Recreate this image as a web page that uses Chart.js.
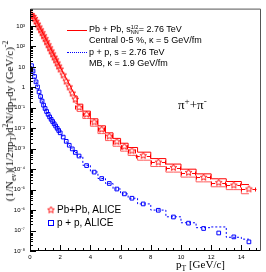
<!DOCTYPE html>
<html><head><meta charset="utf-8">
<script src="https://cdn.jsdelivr.net/npm/chart.js@4.4.0/dist/chart.umd.min.js"></script>
<style>
html,body{margin:0;padding:0;background:#fff;}
#wrap{position:relative;width:266px;height:272px;overflow:hidden;background:#fff;}
#c{position:absolute;left:0;top:0;}
.t{position:absolute;white-space:nowrap;color:#000;}
.leg{font-family:"Liberation Sans",Arial,sans-serif;font-size:9px;line-height:9px;}
.leg2{font-family:"Liberation Sans",Arial,sans-serif;font-size:10px;line-height:10px;}
.serif{font-family:"Liberation Serif","Times New Roman",serif;}
.stk{display:inline-block;vertical-align:-2px;font-size:5.5px;line-height:5px;text-align:left;}
sub,sup{font-size:70%;line-height:0;}
.ls{position:absolute;width:20px;height:0;}
</style></head>
<body><div id="wrap">
<canvas id="c" width="266" height="272"></canvas>
<div class="ls" style="left:67px;top:30px;border-top:1px solid #ff0000;"></div>
<div class="t leg" style="left:89px;top:25px;">Pb + Pb, s<span class="stk">1/2<br>NN</span>= 2.76 TeV</div>
<div class="t leg" style="left:89px;top:36px;">Central 0-5 %, κ = 5 GeV/fm</div>
<div class="ls" style="left:67px;top:52px;border-top:1px dotted #0000ff;"></div>
<div class="t leg" style="left:89px;top:47.5px;">p + p, s = 2.76 TeV</div>
<div class="t leg" style="left:89px;top:58.5px;">MB, κ = 1.9 GeV/fm</div>
<div class="t serif" style="left:178px;top:98px;font-size:13px;line-height:13px;">π<sup>+</sup>+π<sup>-</sup></div>
<div class="t leg2" style="left:57px;top:205px;">Pb+Pb, ALICE</div>
<div class="t leg2" style="left:57px;top:218px;">p + p, ALICE</div>
<div class="t serif" style="left:176px;top:258px;font-size:11px;line-height:12px;">p<sub>T</sub> [GeV/c]</div>
<div class="t serif" style="left:9px;top:121px;font-size:11px;line-height:12px;transform:translate(-50%,-50%) rotate(-90deg);">(1/N<sub>ev</sub>)(1/2πp<sub>T</sub>)d<sup>2</sup>N/dp<sub>T</sub>dy (GeV/c)<sup>-2</sup></div>
</div>
<script>
// ---- data ----
const pT = [0.1,0.2,0.3,0.4,0.5,0.6,0.7,0.8,0.9,1.0,1.1,1.2,1.3,1.4,1.5,1.6,1.7,1.8,1.9,2.0,
            2.2,2.4,2.6,2.8,3.0,3.25,3.75,4.25,4.75,5.25,5.75,6.25,6.75,7.5,8.5,9.5,10.5,11.5,12.5,13.5,14.5];
const pTErr = [0,0,0,0,0,0,0,0,0,0,0,0,0,0,0,0,0,0,0,0,
               0,0,0,0,0,0.25,0.25,0.25,0.25,0.25,0.25,0.25,0.25,0.5,0.5,0.5,0.5,0.5,0.5,0.5,0.5];
// Pb+Pb ALICE (stars)
const pbpbData = [3.5e3,2.95e3,2.3e3,1.7e3,1.23e3,890,645,468,331,240,170,120,85,60,43,30,22,15.5,11,7.8,
                  4.0,2.0,1.05,0.52,0.26,0.105,0.048,0.020,8.9e-3,4.1e-3,2.2e-3,1.26e-3,7.9e-4,4.6e-4,2.2e-4,1.2e-4,6.8e-5,4.0e-5,2.2e-5,1.66e-5,1.07e-5];
// Pb+Pb model band (upper / lower)
const pbpbModelHigh = [4.0e3,3.3e3,2.6e3,1.9e3,1.38e3,1000,724,525,380,275,195,141,100,72,51,37,27,19.5,13.8,10,
                  5.2,2.75,1.45,0.74,0.38,0.151,0.069,0.029,0.0132,0.0060,0.0032,0.00186,0.00115,6.8e-4,3.3e-4,1.78e-4,1.0e-4,5.9e-5,3.4e-5,2.5e-5,1.78e-5];
const pbpbModelLow = [3.3e3,2.7e3,2.04e3,1.48e3,1.07e3,760,537,380,269,190,132,93,65,45,32,22,15.5,10.7,7.6,5.2,
                  2.6,1.32,0.66,0.33,0.166,0.066,0.030,0.0126,0.0055,0.0025,0.00132,7.6e-4,4.7e-4,2.75e-4,1.35e-4,7.2e-5,4.1e-5,2.4e-5,1.38e-5,1.0e-5,6.3e-6];
// p+p ALICE (squares)
const ppData = [11.5,6.3,3.4,1.86,1.05,0.60,0.355,0.214,0.135,0.093,0.066,0.048,0.036,0.0275,0.0214,0.0166,0.0129,0.0100,0.0078,0.0060,
                0.0037,0.0023,0.00148,9.8e-4,6.6e-4,4.4e-4,1.5e-4,7.2e-5,3.5e-5,2.0e-5,1.07e-5,6.2e-6,3.8e-6,2.0e-6,9.8e-7,4.6e-7,2.3e-7,1.26e-7,7.6e-8,4.9e-8,2.8e-8];
// p+p model (dotted)
const ppModel = [11.2,6.2,3.4,1.86,1.05,0.60,0.36,0.215,0.136,0.093,0.066,0.048,0.036,0.0275,0.0214,0.0166,0.0129,0.0100,0.0078,0.0060,
                0.0037,0.0023,0.00148,9.8e-4,6.6e-4,4.2e-4,1.55e-4,7.3e-5,3.5e-5,2.0e-5,1.08e-5,6.2e-6,3.8e-6,2.0e-6,1.0e-6,4.7e-7,2.4e-7,1.38e-7,1.5e-7,4.7e-8,3.8e-8];
const yTickPowers = [-8,-7,-6,-5,-4,-3,-2,-1,0,1,2,3];
const xTickValues = [0,2,4,6,8,10,12,14];
const X_MIN = 0, X_MAX = 15.3, Y_MIN = 1e-8, Y_MAX = 7100;
const SMOOTH_END = 3.0;

// ---- build datasets ----
const pts = (arr, f) => pT.map((x,i)=>({x, y:arr[i]})).filter(p=>f(p.x));
const low = x => x <= SMOOTH_END, high = x => x >= SMOOTH_END;

function makeStar(color, r){
  const s = Math.ceil(r*2+2);
  const c = document.createElement('canvas'); c.width = s; c.height = s;
  const g = c.getContext('2d'); g.strokeStyle = color; g.lineWidth = 0.9;
  g.beginPath();
  for(let i=0;i<10;i++){
    const ang = -Math.PI/2 + i*Math.PI/5, rr = (i%2) ? r*0.45 : r;
    const px = s/2 + rr*Math.cos(ang), py = s/2 + rr*Math.sin(ang);
    if(i) g.lineTo(px,py); else g.moveTo(px,py);
  }
  g.closePath(); g.stroke();
  return c;
}
const star = makeStar('#ff0000', 3.5);

const RED = '#ff0000', RED2 = '#ff5c5c', BLUE = '#0000ff';
const lineDs = (data, color, stepped, dash) => ({
  data, borderColor: color, borderWidth: 1, pointRadius: 0, tension: 0,
  stepped: stepped ? 'middle' : false, borderDash: dash || [], fill: false, showLine: true
});

const datasets = [
  lineDs(pts(pbpbModelHigh, low), RED, false),
  lineDs(pts(pbpbModelHigh, high), RED, true),
  lineDs(pts(pbpbModelLow, low), RED2, false),
  lineDs(pts(pbpbModelLow, high), RED2, true),
  lineDs(pts(ppModel, low), BLUE, false, [2,2]),
  lineDs(pts(ppModel, high), BLUE, true, [2,2]),
  { data: pts(pbpbData, ()=>true), showLine:false, pointStyle: star, pointRadius: 4,
    borderColor: RED, backgroundColor: 'rgba(0,0,0,0)' },
  { data: pts(ppData, ()=>true), showLine:false, pointStyle: 'rect', pointRadius: 2.6,
    borderColor: BLUE, borderWidth: 1, backgroundColor: 'rgba(0,0,0,0)' }
];

const supMap = {'-':'\u207B','0':'\u2070','1':'\u00B9','2':'\u00B2','3':'\u00B3','4':'\u2074','5':'\u2075','6':'\u2076','7':'\u2077','8':'\u2078','9':'\u2079'};
function powLabel(e){
  if(e===0) return '1';
  if(e===1) return '10';
  return '10' + String(e).split('').map(ch=>supMap[ch]).join('');
}

const decor = {
  id: 'decor',
  afterDatasetsDraw(chart){
    const {ctx, scales:{x, y}} = chart;
    ctx.save();
    ctx.strokeStyle = RED; ctx.lineWidth = 1;
    pT.forEach((v,i)=>{
      const e = pTErr[i]; if(!e) return;
      const yy = Math.round(y.getPixelForValue(pbpbData[i])) + 0.5;
      const x1 = x.getPixelForValue(v - e), x2 = x.getPixelForValue(v + e);
      const xc = x.getPixelForValue(v);
      ctx.beginPath();
      ctx.moveTo(x1, yy); ctx.lineTo(xc - 3.5, yy);
      ctx.moveTo(xc + 3.5, yy); ctx.lineTo(x2, yy);
      ctx.moveTo(Math.round(x1)+0.5, yy-2); ctx.lineTo(Math.round(x1)+0.5, yy+2);
      ctx.moveTo(Math.round(x2)-0.5, yy-2); ctx.lineTo(Math.round(x2)-0.5, yy+2);
      ctx.stroke();
    });
    ctx.restore();
  },
  afterDraw(chart){
    const {ctx, chartArea:a, scales:{x, y}} = chart;
    ctx.save();
    ctx.strokeStyle = '#000'; ctx.lineWidth = 1;
    ctx.beginPath();
    for(let e=-8;e<=3;e++){
      for(let m=1;m<=9;m++){
        const v = m*Math.pow(10,e);
        if(v < Y_MIN || v > Y_MAX) continue;
        const py = Math.round(y.getPixelForValue(v)) + 0.5;
        const len = m===1 ? 6 : 3;
        ctx.moveTo(a.left, py); ctx.lineTo(a.left + len, py);
      }
    }
    for(let k=0;k<=30;k++){
      const v = k*0.5; if(v > X_MAX) continue;
      const px = Math.round(x.getPixelForValue(v)) + 0.5;
      const len = (k%4===0) ? 6 : 3;
      ctx.moveTo(px, a.bottom); ctx.lineTo(px, a.bottom - len);
    }
    ctx.stroke();
    ctx.beginPath();
    ctx.moveTo(a.left+0.5, a.top+0.5); ctx.lineTo(a.left+0.5, a.bottom-0.5); ctx.lineTo(a.right-0.5, a.bottom-0.5);
    ctx.stroke();
    ctx.strokeStyle = '#555';
    ctx.beginPath();
    ctx.moveTo(a.left+0.5, a.top+0.5); ctx.lineTo(a.right-0.5, a.top+0.5); ctx.lineTo(a.right-0.5, a.bottom-0.5);
    ctx.stroke();
    ctx.drawImage(star, 51 - star.width/2, 210 - star.height/2);
    ctx.strokeStyle = BLUE;
    ctx.strokeRect(48.5, 220.5, 5, 5);
    ctx.restore();
  }
};

new Chart(document.getElementById('c'), {
  type: 'line',
  data: { datasets },
  options: {
    responsive: false, animation: false, devicePixelRatio: 1,
    layout: { padding: { top: 1, right: 0, left: 0, bottom: 0 } },
    plugins: { legend: { display: false }, tooltip: { enabled: false } },
    scales: {
      x: {
        type: 'linear', min: X_MIN, max: X_MAX,
        grid: { display: false, drawTicks: false }, border: { display: false },
        afterBuildTicks: s => { s.ticks = xTickValues.map(v=>({value:v})); },
        afterFit: s => { s.height = 21; },
        ticks: { autoSkip: false, maxRotation: 0, padding: 3, color: '#000',
                 font: { family: '"Liberation Sans", Arial, sans-serif', size: 6 },
                 callback: v => String(v) }
      },
      y: {
        type: 'logarithmic', min: Y_MIN, max: Y_MAX,
        grid: { display: false, drawTicks: false }, border: { display: false },
        afterBuildTicks: s => { s.ticks = yTickPowers.map(e=>({value: Math.pow(10,e)})); },
        afterFit: s => { s.width = 30; },
        ticks: { autoSkip: false, padding: 5, color: '#000',
                 font: { family: '"Liberation Sans", Arial, sans-serif', size: 6 },
                 callback: v => powLabel(Math.round(Math.log10(v))) }
      }
    }
  },
  plugins: [decor]
});
</script>
</body></html>
